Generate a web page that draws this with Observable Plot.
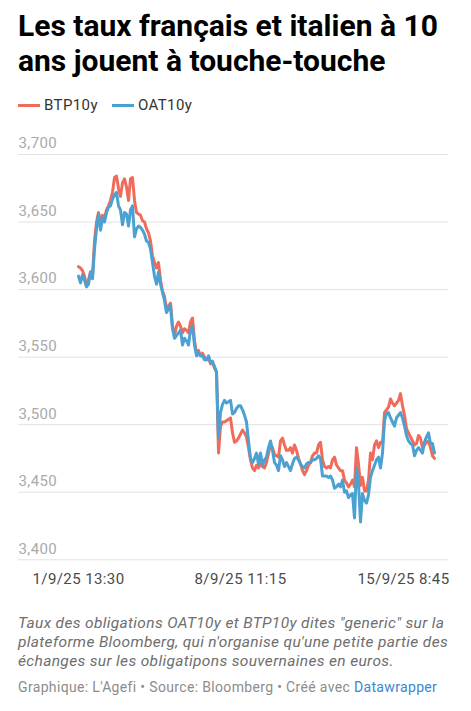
<!DOCTYPE html>
<html>
<head>
<meta charset="utf-8">
<script src="https://cdn.jsdelivr.net/npm/d3@7"></script>
<script src="https://cdn.jsdelivr.net/npm/@observablehq/plot@0.6"></script>
<style>
  html, body { margin: 0; padding: 0; background: #fff; }
  body { width: 471px; height: 711px; position: relative; overflow: hidden; font-family: Roboto, "Noto Sans", sans-serif; }
  #title { position: absolute; left: 18px; top: 8px; width: 450px; font-weight: 700; font-size: 30px; line-height: 35px; color: #000; }
  #legend { position: absolute; left: 18px; top: 95px; height: 20px; font-size: 15px; line-height: 20px; color: #333; white-space: nowrap; letter-spacing: 0.4px; }
  .item { display: inline-block; margin-right: 14px; }
  .sw { display: inline-block; width: 22px; height: 3px; vertical-align: middle; margin-right: 4px; position: relative; top: -1px; }
  #chart { position: absolute; left: 0; top: 120px; }
  #chart svg text { letter-spacing: 0.4px; }
  #caption { position: absolute; left: 18px; top: 614px; font-size: 15.5px; letter-spacing: 0.35px; line-height: 19px; font-style: italic; color: #6e6e6e; white-space: nowrap; }
  #footer { position: absolute; left: 18px; top: 678px; font-size: 14px; letter-spacing: 0.34px; line-height: 18px; color: #8c8c8c; white-space: nowrap; }
  #footer a { color: #3b86d3; text-decoration: none; }
</style>
</head>
<body>
<div id="title">Les taux français et italien à 10 ans jouent à touche-touche</div>
<div id="legend"></div>
<div id="chart"></div>
<div id="caption">Taux des obligations OAT10y et BTP10y dites "generic" sur la<br>plateforme Bloomberg, qui n'organise qu'une petite partie des<br>échanges sur les obligatipons souvernaines en euros.</div>
<div id="footer">Graphique: L'Agefi • Source: Bloomberg • Créé avec <a>Datawrapper</a></div>
<script>
const seriesNames = ["BTP10y", "OAT10y"];
const seriesColors = ["#f06b59", "#4ba1d1"];

// BTP10y (Italy) — readings in order of observation
const btp10y = [
  3.617, 3.616, 3.614, 3.610, 3.603, 3.607, 3.613, 3.610, 3.636, 3.650,
  3.657, 3.650, 3.655, 3.653, 3.659, 3.662, 3.666, 3.672, 3.683, 3.684,
  3.675, 3.669, 3.679, 3.682, 3.676, 3.666, 3.682, 3.683, 3.666, 3.657,
  3.656, 3.655, 3.651, 3.650, 3.645, 3.642, 3.636, 3.625, 3.620, 3.616,
  3.620, 3.607, 3.599, 3.595, 3.585, 3.588, 3.590, 3.573, 3.566, 3.573,
  3.576, 3.573, 3.568, 3.571, 3.570, 3.568, 3.576, 3.579, 3.562, 3.553,
  3.555, 3.551, 3.553, 3.550, 3.548, 3.550, 3.545, 3.546, 3.542, 3.539,
  3.479, 3.499, 3.502, 3.502, 3.503, 3.504, 3.505, 3.494, 3.487, 3.488,
  3.490, 3.493, 3.496, 3.494, 3.491, 3.483, 3.474, 3.468, 3.466, 3.470,
  3.468, 3.471, 3.469, 3.468, 3.472, 3.479, 3.485, 3.483, 3.478, 3.477,
  3.476, 3.488, 3.490, 3.485, 3.481, 3.481, 3.483, 3.479, 3.485, 3.481,
  3.475, 3.471, 3.466, 3.463, 3.466, 3.470,
  3.472, 3.477, 3.479, 3.479, 3.485, 3.487, 3.474, 3.469, 3.468, 3.469,
  3.468, 3.474, 3.476, 3.470, 3.468, 3.466, 3.466, 3.459, 3.457, 3.454,
  3.456, 3.459, 3.454, 3.483, 3.471, 3.455, 3.461, 3.451, 3.451, 3.459,
  3.479, 3.474, 3.485, 3.488, 3.483, 3.487, 3.486, 3.509, 3.511, 3.513,
  3.519, 3.516, 3.514, 3.516, 3.518, 3.523, 3.514, 3.507, 3.497, 3.494,
  3.491, 3.488, 3.485, 3.486, 3.492, 3.490, 3.483, 3.485, 3.487, 3.488,
  3.483, 3.477, 3.475
];

// OAT10y (France)
const oat10y = [
  3.610, 3.605, 3.611, 3.607, 3.602, 3.604, 3.613, 3.608, 3.630, 3.645,
  3.656, 3.644, 3.653, 3.650, 3.657, 3.661, 3.662, 3.667, 3.670, 3.672,
  3.662, 3.659, 3.648, 3.657, 3.656, 3.647, 3.659, 3.662, 3.639, 3.645,
  3.647, 3.646, 3.644, 3.641, 3.636, 3.635, 3.630, 3.620, 3.610, 3.604,
  3.613, 3.604, 3.598, 3.592, 3.583, 3.586, 3.588, 3.571, 3.564, 3.566,
  3.568, 3.570, 3.559, 3.564, 3.562, 3.559, 3.570, 3.573, 3.559, 3.551,
  3.553, 3.551, 3.551, 3.548, 3.548, 3.551, 3.546, 3.547, 3.543, 3.539,
  3.490, 3.509, 3.515, 3.518, 3.516, 3.517, 3.518, 3.508, 3.509, 3.512,
  3.514, 3.514, 3.511, 3.507, 3.502, 3.488, 3.475, 3.472, 3.475, 3.479,
  3.471, 3.479, 3.470, 3.474, 3.476, 3.483, 3.488, 3.481, 3.472, 3.470,
  3.466, 3.477, 3.474, 3.469, 3.472, 3.469, 3.466, 3.471, 3.475, 3.476,
  3.474, 3.471, 3.469, 3.468, 3.471, 3.472,
  3.472, 3.474, 3.474, 3.475, 3.477, 3.475, 3.462, 3.462, 3.462, 3.461,
  3.462, 3.459, 3.453, 3.454, 3.456, 3.454, 3.459, 3.450, 3.451, 3.446,
  3.448, 3.449, 3.431, 3.468, 3.457, 3.428, 3.449, 3.444, 3.442, 3.448,
  3.461, 3.466, 3.470, 3.474, 3.476, 3.468, 3.479, 3.503, 3.508, 3.509,
  3.505, 3.502, 3.499, 3.505, 3.507, 3.509, 3.505, 3.499, 3.492, 3.488,
  3.486, 3.485, 3.477, 3.481, 3.483, 3.481, 3.479, 3.487, 3.491, 3.494,
  3.486, 3.486, 3.479
];

const yTicks = [3.40, 3.45, 3.50, 3.55, 3.60, 3.65, 3.70];
const xTickIndex = [0, 81, 162.5];
const xTickLabels = ["1/9/25 13:30", "8/9/25 11:15", "15/9/25 8:45"];

// legend
const legend = document.getElementById("legend");
seriesNames.forEach((name, k) => {
  const it = document.createElement("span");
  it.className = "item";
  it.innerHTML = `<span class="sw" style="background:${seriesColors[k]}"></span>${name}`;
  legend.appendChild(it);
});

const rows = [];
btp10y.forEach((v, i) => rows.push({i, v, s: seriesNames[0]}));
oat10y.forEach((v, i) => rows.push({i, v, s: seriesNames[1]}));
const xTicks = xTickIndex.map((i, k) => ({i, label: xTickLabels[k]}));
const fmt = d => d.toFixed(3).replace(".", ",");

const chart = Plot.plot({
  width: 471,
  height: 480,
  marginLeft: 18,
  marginRight: 23,
  marginTop: 0,
  marginBottom: 0,
  x: {domain: [-30, 185], range: [18, 448], axis: null},
  y: {domain: [3.40, 3.70], range: [439.3, 34], axis: null},
  color: {domain: seriesNames, range: seriesColors},
  style: {fontFamily: "Roboto, sans-serif", background: "transparent", overflow: "visible"},
  marks: [
    Plot.ruleY(yTicks, {stroke: "#e2e2e2", strokeWidth: 1}),
    Plot.text(yTicks, {y: d => d, frameAnchor: "left", textAnchor: "start", dy: -11, text: fmt, fill: "#aaaaaa", fontSize: 15}),
    Plot.line(rows, {x: "i", y: "v", z: "s", stroke: "s", strokeWidth: 3, strokeLinejoin: "round", strokeLinecap: "round"}),
    Plot.text(xTicks, {x: "i", y: () => 3.40, dy: 19, text: "label", fill: "#4a4a4a", fontSize: 15})
  ]
});
document.getElementById("chart").appendChild(chart);
</script>
</body>
</html>
